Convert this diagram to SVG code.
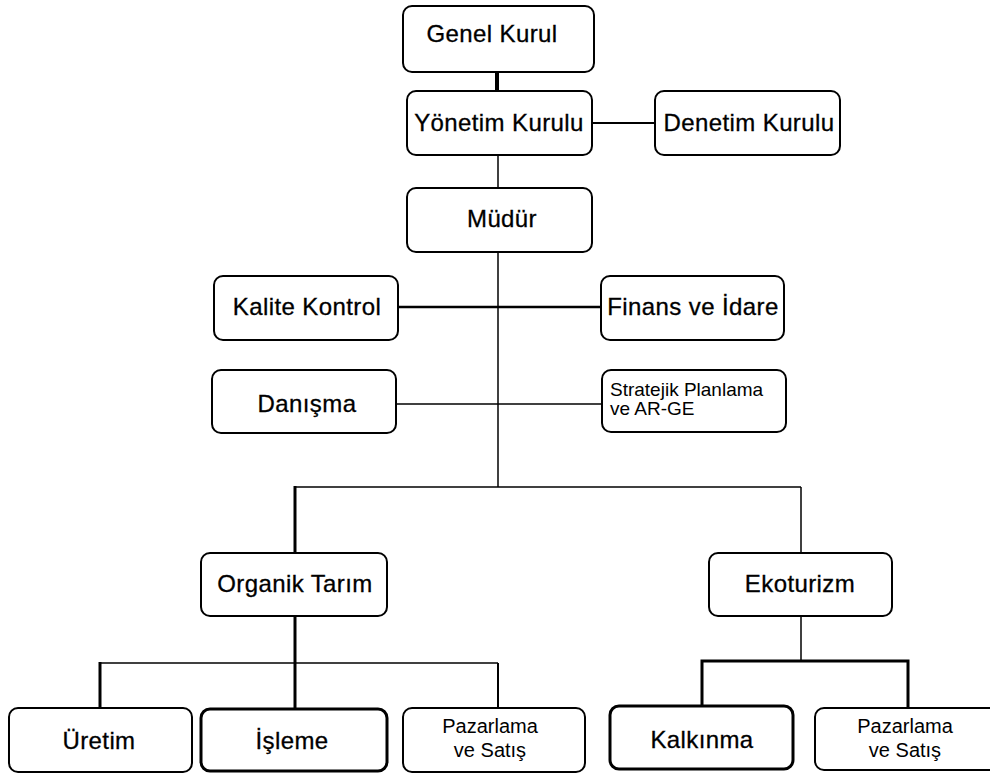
<svg xmlns="http://www.w3.org/2000/svg" width="990" height="774" viewBox="0 0 990 774">
<style>
.b{fill:#fff;stroke:#000;stroke-width:2}
.bt{fill:#fff;stroke:#000;stroke-width:3}
.t{font-family:"Liberation Sans",Arial,sans-serif;font-size:24px;fill:#000;text-anchor:middle;stroke:#000;stroke-width:0.3;letter-spacing:0.4px}
.s{font-family:"Liberation Sans",Arial,sans-serif;font-size:20px;fill:#000;text-anchor:middle}
.st{font-family:"Liberation Sans",Arial,sans-serif;font-size:19px;fill:#000}
.c{stroke:#000;fill:none}
</style>
<rect width="990" height="774" fill="#fff"/>
<g id="connectors">
<line class="c" x1="497" y1="72" x2="497" y2="91" stroke-width="4"/>
<line class="c" x1="592" y1="123" x2="655" y2="123" stroke-width="2"/>
<line class="c" x1="498" y1="155" x2="498" y2="188" stroke-width="1.5"/>
<line class="c" x1="498" y1="252" x2="498" y2="487" stroke-width="1.5"/>
<line class="c" x1="398" y1="307" x2="601" y2="307" stroke-width="2.5"/>
<line class="c" x1="396" y1="404" x2="602" y2="404" stroke-width="1.5"/>
<line class="c" x1="294" y1="487" x2="801" y2="487" stroke-width="1.5"/>
<line class="c" x1="295" y1="486" x2="295" y2="553" stroke-width="3"/>
<line class="c" x1="801" y1="487" x2="801" y2="553" stroke-width="1.5"/>
<line class="c" x1="295" y1="616" x2="295" y2="709" stroke-width="3"/>
<line class="c" x1="100" y1="663" x2="498" y2="663" stroke-width="1.5"/>
<line class="c" x1="100" y1="662" x2="100" y2="708" stroke-width="3"/>
<line class="c" x1="498" y1="663" x2="498" y2="708" stroke-width="2"/>
<line class="c" x1="801" y1="616" x2="801" y2="661" stroke-width="1.5"/>
<polyline class="c" points="702,706 702,661 908,661 908,708" stroke-width="3"/>
</g>
<g id="genel-kurul"><rect class="b" x="403" y="6" width="191" height="66" rx="9"/><text class="t" x="492" y="42">Genel Kurul</text></g>
<g id="yonetim-kurulu"><rect class="b" x="407" y="91" width="185" height="64" rx="9"/><text class="t" x="499" y="131">Yönetim Kurulu</text></g>
<g id="denetim-kurulu"><rect class="b" x="655" y="91" width="185" height="64" rx="9"/><text class="t" x="749" y="131">Denetim Kurulu</text></g>
<g id="mudur"><rect class="b" x="407" y="188" width="185" height="64" rx="9"/><text class="t" x="502" y="227">Müdür</text></g>
<g id="kalite-kontrol"><rect class="b" x="214" y="276" width="184" height="64" rx="9"/><text class="t" x="307" y="315">Kalite Kontrol</text></g>
<g id="finans-idare"><rect class="b" x="601" y="276" width="183" height="64" rx="9"/><text class="t" x="693" y="315">Finans ve İdare</text></g>
<g id="danisma"><rect class="b" x="212" y="370" width="184" height="63" rx="9"/><text class="t" x="307" y="412">Danışma</text></g>
<g id="stratejik"><rect class="b" x="602" y="370" width="184" height="62" rx="9"/><text class="st" x="610" y="396">Stratejik Planlama</text><text class="st" x="610" y="415">ve AR-GE</text></g>
<g id="organik-tarim"><rect class="b" x="201" y="553" width="186" height="63" rx="9"/><text class="t" x="295" y="592">Organik Tarım</text></g>
<g id="ekoturizm"><rect class="b" x="709" y="553" width="183" height="63" rx="9"/><text class="t" x="800" y="592">Ekoturizm</text></g>
<g id="uretim"><rect class="b" x="9" y="708" width="183" height="64" rx="9"/><text class="t" x="99" y="749">Üretim</text></g>
<g id="isleme"><rect class="bt" x="201" y="709" width="186" height="62" rx="9"/><text class="t" x="292" y="749">İşleme</text></g>
<g id="pazarlama-1"><rect class="b" x="403" y="708" width="182" height="64" rx="9"/><text class="s" x="490" y="733">Pazarlama</text><text class="s" x="490" y="757">ve Satış</text></g>
<g id="kalkinma"><rect class="bt" x="610" y="706" width="183" height="63" rx="9"/><text class="t" x="702" y="748">Kalkınma</text></g>
<g id="pazarlama-2"><rect class="b" x="815" y="708" width="190" height="62" rx="9"/><text class="s" x="905" y="733">Pazarlama</text><text class="s" x="905" y="757">ve Satış</text></g>
</svg>
